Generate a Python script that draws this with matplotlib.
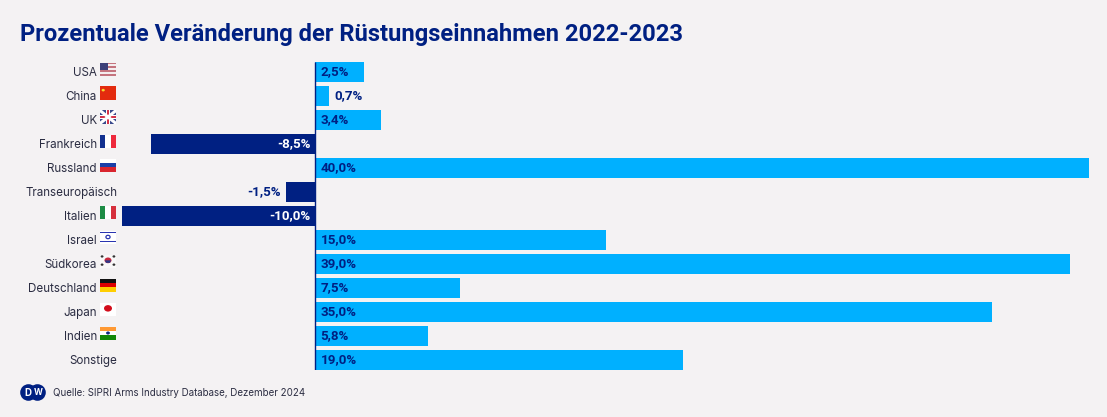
import matplotlib
matplotlib.use('Agg')
import matplotlib.pyplot as plt
from matplotlib.patches import Rectangle, Circle, Polygon

W, H = 1107, 417
BG = '#F4F2F3'
NAVY = '#002082'
SKY = '#00B0FF'
TEXT = '#2B2D42'

plt.rcParams['font.family'] = ['Inter', 'DejaVu Sans']

countries = ['USA', 'China', 'UK', 'Frankreich', 'Russland', 'Transeuropäisch', 'Italien',
             'Israel', 'Südkorea', 'Deutschland', 'Japan', 'Indien', 'Sonstige']
changes = [2.5, 0.7, 3.4, -8.5, 40.0, -1.5, -10.0, 15.0, 39.0, 7.5, 35.0, 5.8, 19.0]
flags = ['us', 'cn', 'uk', 'fr', 'ru', None, 'it', 'il', 'kr', 'de', 'jp', 'in', None]
title = 'Prozentuale Veränderung der Rüstungseinnahmen 2022-2023'
source = 'Quelle: SIPRI Arms Industry Database, Dezember 2024'


def px_axes(x0, y0, x1, y1, **kw):
    # axes from pixel box, y counted from the top
    return fig.add_axes([x0 / W, 1 - y1 / H, (x1 - x0) / W, (y1 - y0) / H], **kw)


def stripes(a, colors, horizontal=True):
    n = len(colors)
    for i, c in enumerate(colors):
        if horizontal:
            a.add_patch(Rectangle((0, 1 - (i + 1) / n), 1, 1 / n, color=c, lw=0))
        else:
            a.add_patch(Rectangle((i / n, 0), 1 / n, 1, color=c, lw=0))


def draw_flag(a, code):
    if code == 'us':
        stripes(a, ['#C4747E', '#F4EDEE'] * 3 + ['#C4747E'])
        a.add_patch(Rectangle((0, 0.45), 0.5, 0.55, color='#3C3F78', lw=0))
    elif code == 'cn':
        stripes(a, ['#E32B0E'])
        a.add_patch(Circle((0.2, 0.72), 0.1, color='#F6D92B', lw=0))
    elif code == 'uk':
        stripes(a, ['#3A4A8C'])
        a.plot([0, 1], [0, 1], color='white', lw=2.2)
        a.plot([0, 1], [1, 0], color='white', lw=2.2)
        a.add_patch(Rectangle((0.38, 0), 0.24, 1, color='white', lw=0))
        a.add_patch(Rectangle((0, 0.36), 1, 0.28, color='white', lw=0))
        a.add_patch(Rectangle((0.44, 0), 0.12, 1, color='#D5344A', lw=0))
        a.add_patch(Rectangle((0, 0.43), 1, 0.14, color='#D5344A', lw=0))
    elif code == 'fr':
        stripes(a, ['#12308F', '#FFFFFF', '#EE2A3C'], horizontal=False)
    elif code == 'ru':
        stripes(a, ['#FFFFFF', '#1A3FA8', '#D9252E'])
    elif code == 'it':
        stripes(a, ['#1E8C45', '#FFFFFF', '#D6303C'], horizontal=False)
    elif code == 'il':
        stripes(a, ['#FFFFFF'])
        a.add_patch(Rectangle((0, 0.78), 1, 0.13, color='#2A35B0', lw=0))
        a.add_patch(Rectangle((0, 0.09), 1, 0.13, color='#2A35B0', lw=0))
        a.add_patch(Circle((0.5, 0.5), 0.13, fc='none', ec='#2A35B0', lw=0.9))
    elif code == 'kr':
        stripes(a, ['#F9F8F8'])
        a.add_patch(Circle((0.5, 0.55), 0.22, color='#C8283C', lw=0))
        a.add_patch(Polygon([(0.3, 0.55), (0.7, 0.55), (0.62, 0.36), (0.38, 0.36)], color='#2A3A8C', lw=0))
        for x, y in [(0.13, 0.85), (0.87, 0.85), (0.13, 0.22), (0.87, 0.22)]:
            a.add_patch(Circle((x, y), 0.09, color='#333333', lw=0))
    elif code == 'de':
        stripes(a, ['#111111', '#DD0000', '#FFCE00'])
    elif code == 'jp':
        stripes(a, ['#FFFFFF'])
        a.add_patch(Circle((0.5, 0.55), 0.25, color='#D30D1B', lw=0))
    elif code == 'in':
        stripes(a, ['#FF9933', '#FFFFFF', '#138808'])
        a.add_patch(Circle((0.5, 0.5), 0.12, color='#102A83', lw=0))


fig = plt.figure(figsize=(W / 100, H / 100), dpi=100, facecolor=BG)
ax = px_axes(122, 62, 1089, 370, facecolor='none')

rows = list(range(len(countries)))
colors = [SKY if v >= 0 else NAVY for v in changes]
ax.barh(rows, changes, height=20 / 24, color=colors, linewidth=0)
ax.set_xlim(-10, 40)
ax.set_ylim(12 + 10 / 24, -10 / 24)
ax.axis('off')
ax.plot([0, 0], [12 + 10 / 24, -10 / 24], color=NAVY, lw=1, solid_capstyle='butt', zorder=3)

for r, (name, v, code) in enumerate(zip(countries, changes, flags)):
    # country label, pushed left of the flag if there is one
    off = -25 if code else -4.5
    ax.annotate(name, xy=(0, r), xycoords=('axes fraction', 'data'),
                xytext=(off * 0.72, 0.5), textcoords='offset points',
                ha='right', va='center_baseline', fontsize=8.35, color=TEXT)

    if code:
        cy = 71.5 + 24 * r
        fa = px_axes(100, cy - 9, 116, cy + 4, facecolor='none')
        fa.set_xlim(0, 1)
        fa.set_ylim(0, 1)
        fa.axis('off')
        draw_flag(fa, code)

    label = f'{v:.1f}%'.replace('.', ',')
    if v > 1:
        xpos, xoff, ha, col = 0, 5, 'left', NAVY
    elif v > 0:
        xpos, xoff, ha, col = v, 5, 'left', NAVY
    elif v > -2:
        xpos, xoff, ha, col = v, -6, 'right', NAVY
    else:
        xpos, xoff, ha, col = 0, -5, 'right', 'white'
    ax.annotate(label, xy=(xpos, r), xytext=(xoff * 0.72, 1.1), textcoords='offset points',
                ha=ha, va='center_baseline', fontsize=9.6, fontweight='bold', color=col,
                family=['Roboto', 'DejaVu Sans'])

fig.text(20 / W, 1 - 31.5 / H, title, fontsize=17.1, fontweight='bold', color=NAVY,
         ha='left', va='center_baseline', family=['Roboto', 'DejaVu Sans'])
fig.text(53 / W, 1 - 392 / H, source, fontsize=7, color=TEXT, ha='left', va='center_baseline')

# DW logo
logo = px_axes(20, 384, 46, 401, facecolor='none')
logo.set_xlim(20, 46)
logo.set_ylim(401, 384)
logo.axis('off')
logo.add_patch(Circle((28.5, 392.5), 8.3, color=NAVY, lw=0))
logo.add_patch(Circle((37.5, 392.5), 8.3, color=NAVY, lw=0))
logo.text(28, 392.7, 'D', color='white', fontsize=7, fontweight='bold', ha='center', va='center')
logo.text(38.2, 392.7, 'W', color='white', fontsize=6.2, fontweight='bold', ha='center', va='center')

fig.savefig('out.png', dpi=100, facecolor=BG)
